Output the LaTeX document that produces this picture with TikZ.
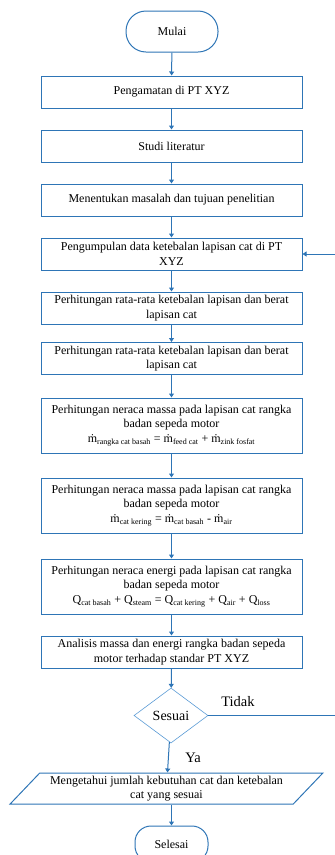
\documentclass[tikz,border=0pt]{standalone}
\usepackage{fontspec}
\setmainfont{Liberation Serif}
\usetikzlibrary{arrows.meta,shapes.geometric}
\definecolor{lineblue}{RGB}{46,117,182}
\definecolor{softblue}{RGB}{91,155,213}

\begin{document}
\begin{tikzpicture}[x=1pt,y=-1pt,
    proses/.style={draw=lineblue,line width=1pt,minimum width=261pt,minimum height=32pt,
      align=center,inner sep=1pt,font=\fontsize{12}{14.5}\selectfont},
    terminal/.style={draw=lineblue,line width=1pt,rounded corners=16pt,minimum height=36pt,
      font=\fontsize{12}{14}\selectfont},
    keputusan/.style={draw=softblue,line width=0.6pt,diamond,aspect=1.35,minimum width=74pt,
      minimum height=55pt,inner sep=0pt,font=\fontsize{14}{16}\selectfont},
    data/.style={draw=lineblue,line width=1pt,trapezium,trapezium left angle=45,
      trapezium right angle=135,trapezium stretches=true,minimum width=313pt,minimum height=31pt,
      align=center,inner sep=1pt,font=\fontsize{12}{14.5}\selectfont},
    label/.style={font=\fontsize{14.5}{16}\selectfont},
    panah/.style={draw=lineblue,line width=1pt,-{Triangle[width=5pt,length=4pt]}}]

    \useasboundingbox (0,0) rectangle (335,855);

    % main flow
    % nodes
    \node[terminal,minimum width=92pt,minimum height=41pt,rounded corners=20pt] (mulai) at (172,31.5) {Mulai};
    \node[proses] (amat) at (171.5,92) {Pengamatan di PT XYZ};
    \node[proses] (studi) at (171.5,146) {Studi literatur};
    \node[proses] (masalah) at (171.5,200) {Menentukan masalah dan tujuan penelitian};
    \node[proses] (kumpul) at (171.5,254) {Pengumpulan data ketebalan lapisan cat di PT\\XYZ};
    \node[proses] (hitung1) at (171.5,308) {Perhitungan rata-rata ketebalan lapisan dan berat\\lapisan cat};
    \node[proses] (hitung2) at (171.5,358.5) {Perhitungan rata-rata ketebalan lapisan dan berat\\lapisan cat};
    \node[proses,minimum height=55pt] (massa1) at (171.5,425.5) {Perhitungan neraca massa pada lapisan cat rangka\\badan sepeda motor\\
      {\large\.{m}}\textsubscript{rangka cat basah} {\large =} {\large\.{m}}\textsubscript{feed cat} {\large +} {\large\.{m}}\textsubscript{zink fosfat}};
    \node[proses,minimum height=55pt] (massa2) at (171.5,505.5) {Perhitungan neraca massa pada lapisan cat rangka\\badan sepeda motor\\
      {\large\.{m}}\textsubscript{cat kering} {\large =} {\large\.{m}}\textsubscript{cat basah} - {\large\.{m}}\textsubscript{air}};
    \node[proses,minimum height=55pt] (energi) at (171.5,586.5) {Perhitungan neraca energi pada lapisan cat rangka\\badan sepeda motor\\
      Q\textsubscript{cat basah} + Q\textsubscript{steam} = Q\textsubscript{cat kering} + Q\textsubscript{air} + Q\textsubscript{loss}};
    \node[proses] (analisis) at (171.5,652) {Analisis massa dan energi rangka badan sepeda\\motor terhadap standar PT XYZ};
    \node[keputusan] (sesuai) at (171,715.5) {Sesuai};
    \node[data] (hasil) at (166.5,788.5) {Mengetahui jumlah kebutuhan cat dan ketebalan\\cat yang sesuai};
    \node[terminal,minimum width=73pt] (selesai) at (171.5,844) {Selesai};

    % paths
    \draw[panah] (mulai) -- (amat);
    \draw[panah] (amat) -- (studi);
    \draw[panah] (studi) -- (masalah);
    \draw[panah] (masalah) -- (kumpul);
    \draw[panah] (kumpul) -- (hitung1);
    \draw[panah] (hitung1) -- (hitung2);
    \draw[panah] (hitung2) -- (massa1);
    \draw[panah] (massa1) -- (massa2);
    \draw[panah] (massa2) -- (energi);
    \draw[panah] (energi) -- (analisis);
    \draw[panah] (analisis) -- (sesuai);
    \draw[panah] (sesuai) -- (hasil);
    \draw[panah] (hasil.south -| selesai) -- (selesai);

    % loop back (runs past the right edge)
    \coordinate (balik) at (345,715.5);
    \draw[panah] (sesuai.east) -- (balik) |- (kumpul.east);

    % labels
    \node[label] (tidak) at (238,702) {Tidak};
    \node[label] (ya) at (193,757.5) {Ya};

\end{tikzpicture}
\end{document}
